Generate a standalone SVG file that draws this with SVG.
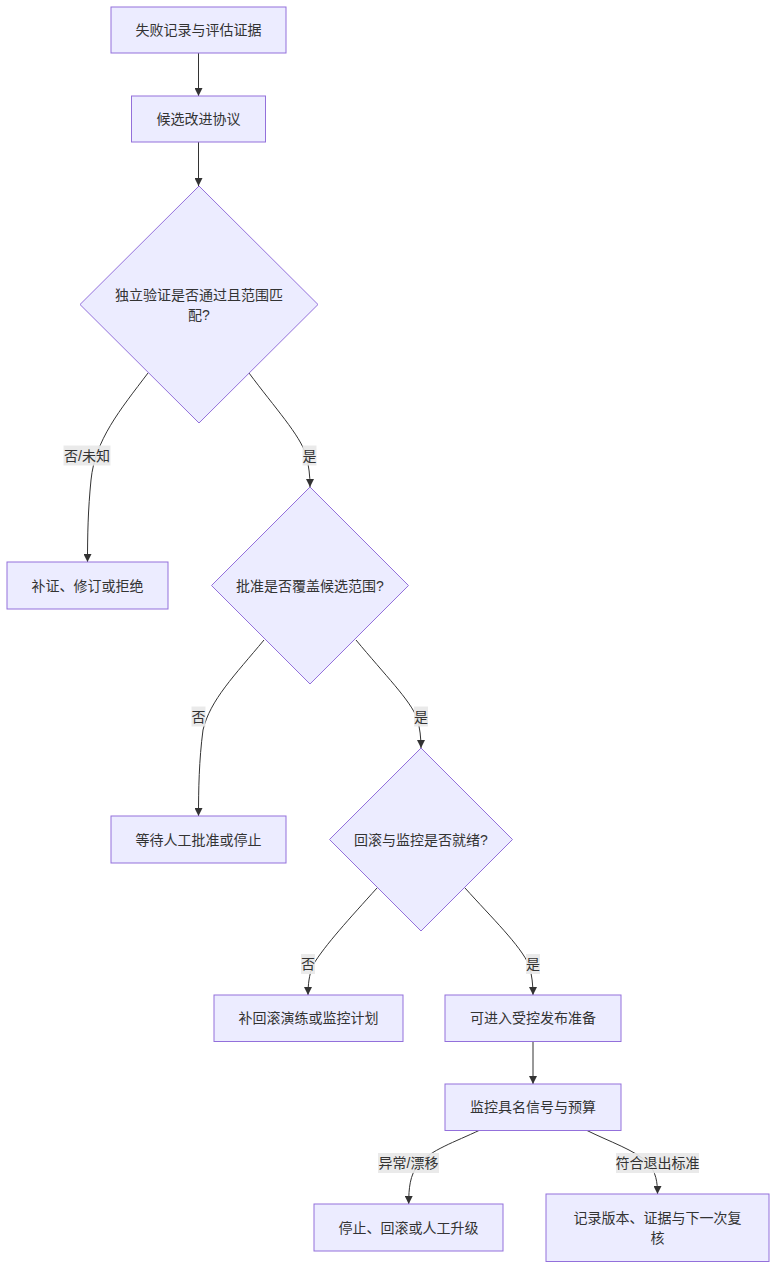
<svg xmlns="http://www.w3.org/2000/svg" width="784" height="1282" viewBox="0 0 784 1282">
<defs>
<style>
.node rect,.node polygon{fill:#ECECFF;stroke:#9370DB;stroke-width:1}
.node text{font-family:"Liberation Sans","Noto Sans CJK SC",sans-serif;font-size:14px;fill:#333;text-anchor:middle;dominant-baseline:central}
.edge{fill:none;stroke:#333;stroke-width:1;marker-end:url(#arrow)}
.elabel rect{fill:#e8e8e8;fill-opacity:0.9;stroke:none}
.elabel text{font-family:"Liberation Sans","Noto Sans CJK SC",sans-serif;font-size:14px;fill:#333;text-anchor:middle;dominant-baseline:central}
</style>
<marker id="arrow" viewBox="0 0 10 10" refX="10" refY="5" markerWidth="8" markerHeight="8" markerUnits="userSpaceOnUse" orient="auto">
<path d="M0,0 L10,5 L0,10 z" fill="#333"/>
</marker>
</defs>
<rect width="784" height="1282" fill="#ffffff"/>
<g id="connectors">
<path class="edge" d="M198.5,53 L198.5,96"/>
<path class="edge" d="M198.5,142 L198.5,186"/>
<path class="edge" d="M148,373 C120,410 95,440 91,480 C88,510 87.5,535 87.5,562"/>
<path class="edge" d="M249,373 C275,408 300,435 306,455 C309,467 310,475 310,487"/>
<path class="edge" d="M264,640 C235,675 210,700 203,730 C199,760 198.5,790 198.5,816"/>
<path class="edge" d="M356,640 C385,675 410,700 417,718 C420,728 421,738 421,748"/>
<path class="edge" d="M377,888 C350,918 325,945 313,965 C309,975 308,985 308,995"/>
<path class="edge" d="M465,888 C492,918 520,945 529,965 C532,975 533,985 533,995"/>
<path class="edge" d="M533,1041 L533,1084"/>
<path class="edge" d="M480,1130 C455,1142 430,1150 418,1165 C410,1175 408.7,1188 408.7,1204"/>
<path class="edge" d="M586,1130 C610,1142 635,1150 648,1163 C656,1172 657.5,1182 657.5,1194"/>
</g>
<g id="edge-labels">
<g class="elabel"><rect x="63.5" y="445.5" width="47" height="20"/><text x="87" y="455.5">否/未知</text></g>
<g class="elabel"><rect x="302.5" y="445.5" width="14" height="20"/><text x="309.5" y="455.5">是</text></g>
<g class="elabel"><rect x="191.5" y="706.5" width="14" height="20"/><text x="198.5" y="716.5">否</text></g>
<g class="elabel"><rect x="414" y="706.5" width="14" height="20"/><text x="421" y="716.5">是</text></g>
<g class="elabel"><rect x="301" y="954" width="14" height="20"/><text x="308" y="964">否</text></g>
<g class="elabel"><rect x="526" y="954" width="14" height="20"/><text x="533" y="964">是</text></g>
<g class="elabel"><rect x="378" y="1153" width="61" height="20"/><text x="408.5" y="1163">异常/漂移</text></g>
<g class="elabel"><rect x="616" y="1153" width="83" height="20"/><text x="657.5" y="1163">符合退出标准</text></g>
</g>
<g id="node-A" class="node"><rect x="111" y="7" width="175" height="46"/><text x="198.5" y="30">失败记录与评估证据</text></g>
<g id="node-B" class="node"><rect x="131.5" y="96" width="134" height="46"/><text x="198.5" y="119">候选改进协议</text></g>
<g id="node-C" class="node"><polygon points="199,186 318,304.5 199,423 80,304.5"/><text x="199" y="294.5">独立验证是否通过且范围匹</text><text x="199" y="314.5">配?</text></g>
<g id="node-D" class="node"><rect x="7" y="562" width="161" height="47"/><text x="87.5" y="585.5">补证、修订或拒绝</text></g>
<g id="node-E" class="node"><polygon points="310,487 408.5,585.5 310,684 211.5,585.5"/><text x="310" y="585.5">批准是否覆盖候选范围?</text></g>
<g id="node-F" class="node"><rect x="111" y="816" width="175" height="47"/><text x="198.5" y="839.5">等待人工批准或停止</text></g>
<g id="node-G" class="node"><polygon points="421,748 512.5,839.5 421,931 329.5,839.5"/><text x="421" y="839.5">回滚与监控是否就绪?</text></g>
<g id="node-H" class="node"><rect x="214" y="995" width="189" height="46.5"/><text x="308.5" y="1018">补回滚演练或监控计划</text></g>
<g id="node-I" class="node"><rect x="445" y="995" width="176" height="46.5"/><text x="533" y="1018">可进入受控发布准备</text></g>
<g id="node-J" class="node"><rect x="445" y="1084" width="176" height="46.5"/><text x="533" y="1107">监控具名信号与预算</text></g>
<g id="node-K" class="node"><rect x="314" y="1204" width="189" height="47"/><text x="408.5" y="1227.5">停止、回滚或人工升级</text></g>
<g id="node-L" class="node"><rect x="546" y="1194" width="223" height="67.5"/><text x="657.5" y="1217.5">记录版本、证据与下一次复</text><text x="657.5" y="1237.5">核</text></g>
</svg>
